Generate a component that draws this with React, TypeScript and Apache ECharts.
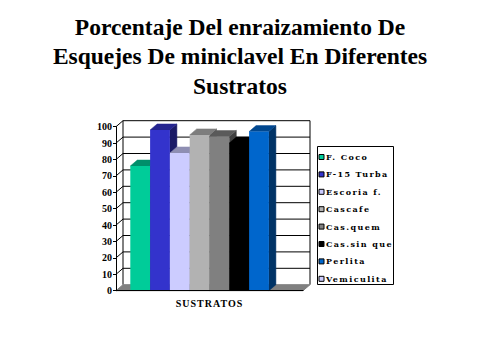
import React, { useEffect, useRef } from "react";
import * as echarts from "echarts";

const titleLines = [
  "Porcentaje Del enraizamiento De",
  "Esquejes De miniclavel En Diferentes",
  "Sustratos",
];
const xCategories = ["SUSTRATOS"];
const seriesNames = [
  "F. Coco",
  "F-15 Turba",
  "Escoria f.",
  "Cascafe",
  "Cas.quem",
  "Cas.sin que",
  "Perlita",
  "Vemiculita",
];
const seriesValues = [76, 98, 84, 95, 94, 90, 97, 0];
const seriesColors = [
  "#00CC99",
  "#3333CC",
  "#CCCCFF",
  "#B2B2B2",
  "#808080",
  "#000000",
  "#0066CC",
  "#CCCCFF",
];
const yTicks = [0, 10, 20, 30, 40, 50, 60, 70, 80, 90, 100];

const DX = 7;
const DY = 6;

function shade(hex: string, f: number): string {
  const n = parseInt(hex.slice(1), 16);
  const r = Math.round(((n >> 16) & 255) * f);
  const g = Math.round(((n >> 8) & 255) * f);
  const b = Math.round((n & 255) * f);
  return `rgb(${r},${g},${b})`;
}

export default function App() {
  const ref = useRef<HTMLDivElement>(null);
  useEffect(() => {
    if (!ref.current) return;
    const chart = echarts.init(ref.current, null, { renderer: "svg" });
    const nBars = seriesNames.length;

    const wallSeries: any = {
      type: "custom",
      name: "walls",
      silent: true,
      z: 1,
      data: yTicks.map((t) => [0, t]),
      encode: { x: 0, y: 1 },
      renderItem: (params: any, api: any) => {
        const v = api.value(1);
        const c = api.coord([0, v]);
        const bw = api.size([1, 0])[0];
        const L = c[0] - bw / 2;
        const R = c[0] + bw / 2;
        const y = c[1];
        const children: any[] = [];
        if (v === 0) {
          const top = api.coord([0, 100])[1];
          children.push({
            type: "line",
            shape: { x1: L + DX, y1: y - DY, x2: L + DX, y2: top - DY },
            style: { stroke: "#000", lineWidth: 1 },
          });
          children.push({
            type: "line",
            shape: { x1: R + DX, y1: y - DY, x2: R + DX, y2: top - DY },
            style: { stroke: "#000", lineWidth: 1 },
          });
          children.push({
            type: "polygon",
            shape: {
              points: [
                [L, y],
                [L + DX, y - DY],
                [R + DX, y - DY],
                [R, y],
              ],
            },
            style: { fill: "#808080", stroke: "#808080", lineWidth: 1 },
          });
        } else {
          children.push({
            type: "polyline",
            shape: {
              points: [
                [L, y],
                [L + DX, y - DY],
                [R + DX, y - DY],
              ],
            },
            style: { stroke: "#000", lineWidth: 1, fill: null },
          });
        }
        return { type: "group", children };
      },
    };

    const barSeries = seriesNames.map((name, i) => ({
      type: "custom",
      name,
      z: 2 + i,
      itemStyle: { color: seriesColors[i] },
      data: [[0, seriesValues[i]]],
      encode: { x: 0, y: 1 },
      renderItem: (params: any, api: any) => {
        const v = api.value(1);
        if (!v) return { type: "group", children: [] };
        const c = api.coord([0, v]);
        const base = api.coord([0, 0])[1];
        const bw = api.size([1, 0])[0];
        const w = (bw * 19.8) / 187;
        const pad = (bw - nBars * w) / 2;
        const x = c[0] - bw / 2 + pad + i * w;
        const y = c[1];
        const col = seriesColors[i];
        return {
          type: "group",
          children: [
            {
              type: "polygon",
              shape: {
                points: [
                  [x + w, y],
                  [x + w + DX, y - DY],
                  [x + w + DX, base - DY],
                  [x + w, base],
                ],
              },
              style: { fill: shade(col, 0.5), stroke: shade(col, 0.5), lineWidth: 0.5 },
            },
            {
              type: "polygon",
              shape: {
                points: [
                  [x, y],
                  [x + DX, y - DY],
                  [x + w + DX, y - DY],
                  [x + w, y],
                ],
              },
              style: { fill: shade(col, 0.7), stroke: shade(col, 0.7), lineWidth: 0.5 },
            },
            {
              type: "rect",
              shape: { x, y, width: w, height: base - y },
              style: { fill: col },
            },
          ],
        };
      },
    }));

    chart.setOption({
      animation: false,
      title: {
        text: titleLines.join("\n"),
        left: "center",
        top: 7,
        textStyle: {
          fontFamily: "Liberation Serif",
          fontWeight: "bold",
          fontSize: 23.5,
          lineHeight: 29.5,
          color: "#000",
        },
      },
      grid: { left: 116, right: 177, top: 126.7, bottom: 69.3 },
      xAxis: {
        type: "category",
        data: xCategories,
        axisLine: { lineStyle: { color: "#000", width: 1 } },
        axisTick: { length: 3, lineStyle: { color: "#000" } },
        axisLabel: {
          margin: 8,
          fontFamily: "Liberation Serif",
          fontWeight: "bold",
          fontSize: 10,
          color: "#000",
        },
        z: 20,
      },
      yAxis: {
        type: "value",
        min: 0,
        max: 100,
        interval: 10,
        axisLine: { show: true, lineStyle: { color: "#000", width: 1 } },
        axisTick: { show: true, length: 3, lineStyle: { color: "#000" } },
        axisLabel: {
          margin: 4,
          fontFamily: "Liberation Serif",
          fontWeight: "bold",
          fontSize: 10,
          color: "#000",
        },
        splitLine: { show: false },
        z: 20,
      },
      legend: {
        data: seriesNames,
        orient: "vertical",
        left: 318.5,
        top: 151.5,
        padding: 0,
        icon: "rect",
        itemWidth: 5,
        itemHeight: 5,
        itemGap: 6.4,
        itemStyle: { borderColor: "#000", borderWidth: 1 },
        textStyle: {
          fontFamily: "DejaVu Serif",
          fontWeight: "bold",
          fontSize: 8,
          lineHeight: 11,
          color: "#000",
          padding: [0, 0, 0, -3],
        },
      },
      graphic: [
        {
          type: "rect",
          shape: { x: 317.5, y: 146.5, width: 76, height: 138 },
          style: { fill: "none", stroke: "#000", lineWidth: 1 },
          silent: true,
        },
      ],
      series: [wallSeries, ...barSeries],
    });

    const texts = ref.current.querySelectorAll("text");
    texts.forEach((t) => {
      const s = (t.textContent || "").trim();
      if (seriesNames.includes(s)) t.setAttribute("letter-spacing", "1.4");
      if (s === "SUSTRATOS") t.setAttribute("letter-spacing", "1");
    });

    return () => chart.dispose();
  }, []);
  return (
    <div
      ref={ref}
      style={{ position: "fixed", left: 0, top: 0, width: 480, height: 360, background: "#fff" }}
    />
  );
}
